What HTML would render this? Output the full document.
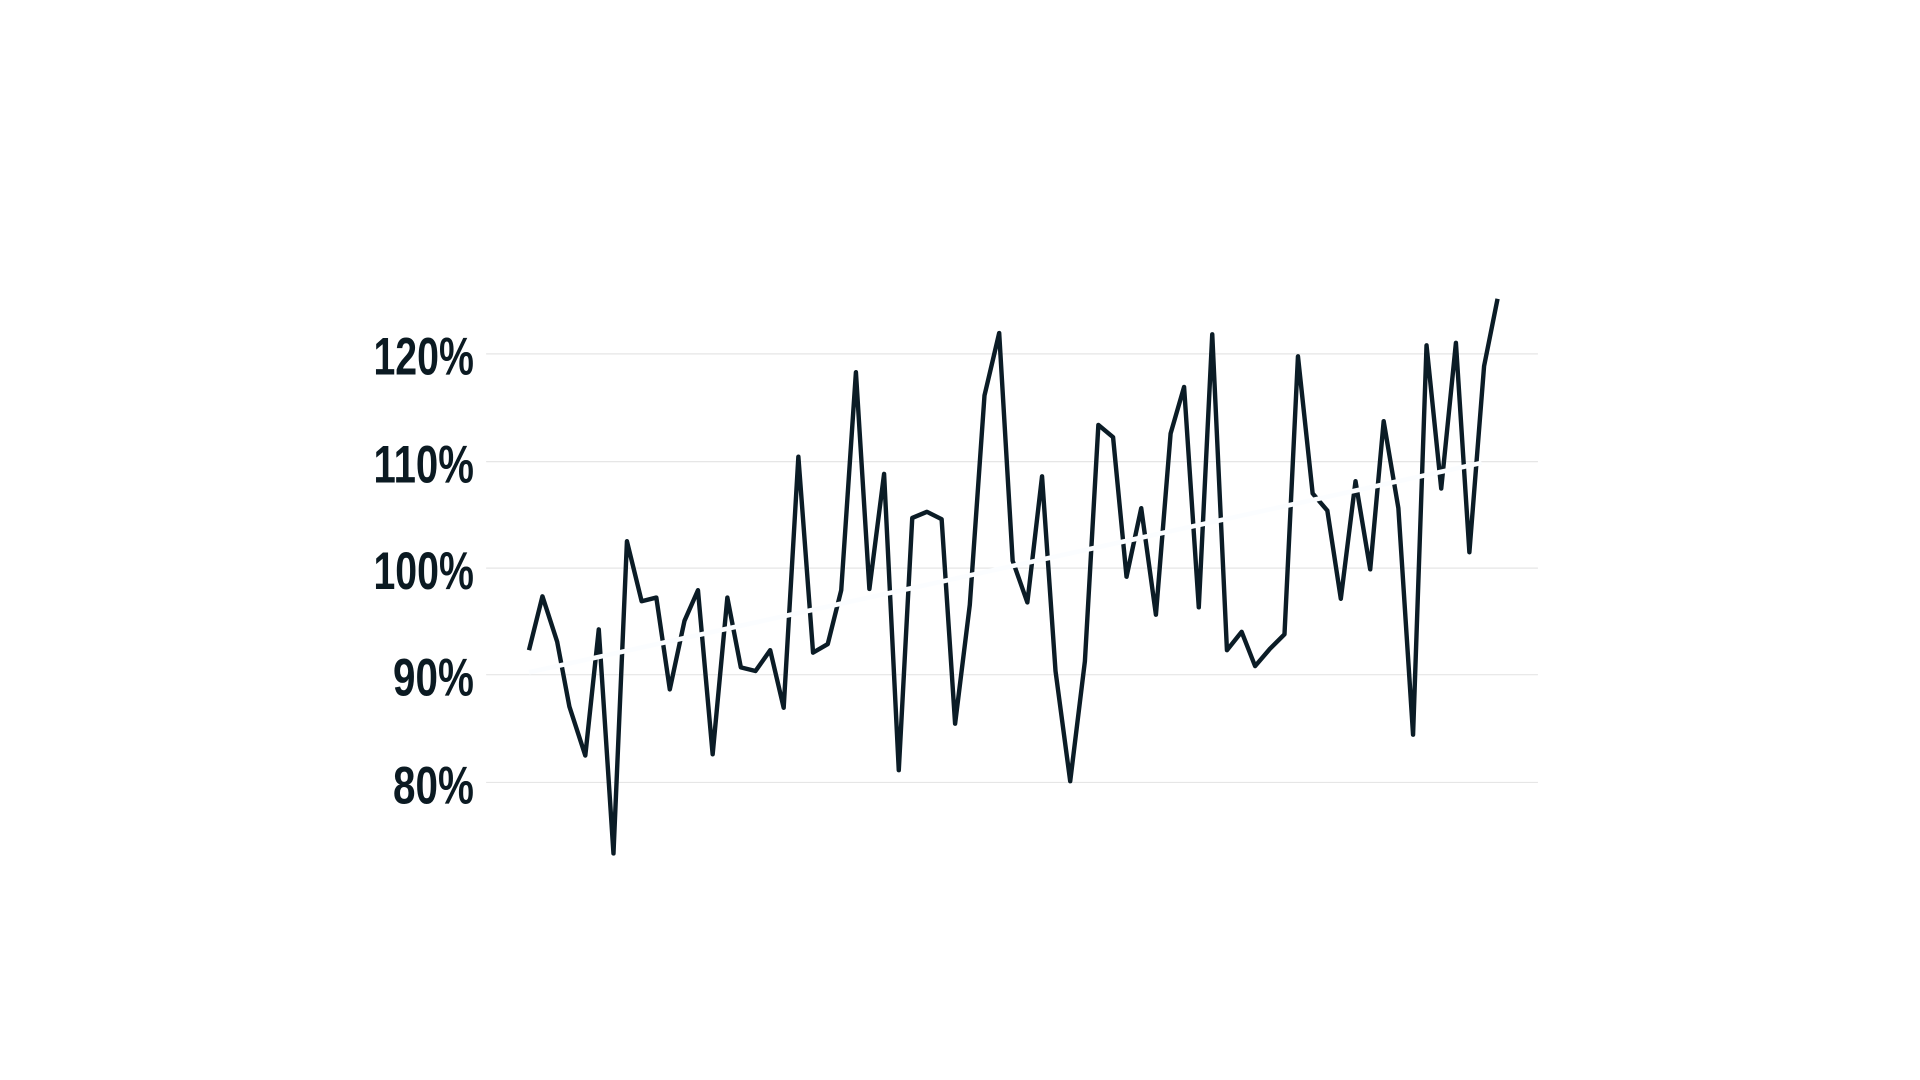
<!DOCTYPE html>
<html><head><meta charset="utf-8"><style>
html,body{margin:0;padding:0;background:#fff;width:1920px;height:1080px;overflow:hidden}
svg{display:block}
text{font-family:"Liberation Sans Narrow","Liberation Sans",sans-serif;font-weight:bold;fill:#0b1a22}
</style></head><body>
<svg width="1920" height="1080" viewBox="0 0 1568 882" preserveAspectRatio="none">
<g stroke="#e6e6e6" stroke-width="1">
<line x1="397" y1="289" x2="1256" y2="289"/>
<line x1="397" y1="377" x2="1256" y2="377"/>
<line x1="397" y1="464" x2="1256" y2="464"/>
<line x1="397" y1="551" x2="1256" y2="551"/>
<line x1="397" y1="639" x2="1256" y2="639"/>
</g>
<g font-size="43" text-anchor="end">
<text x="387" y="306" textLength="82" lengthAdjust="spacingAndGlyphs">120%</text>
<text x="387" y="394" textLength="82" lengthAdjust="spacingAndGlyphs">110%</text>
<text x="387" y="481" textLength="82" lengthAdjust="spacingAndGlyphs">100%</text>
<text x="387" y="568" textLength="66" lengthAdjust="spacingAndGlyphs">90%</text>
<text x="387" y="656" textLength="66" lengthAdjust="spacingAndGlyphs">80%</text>
</g>
<polyline fill="none" stroke="#0b1c26" stroke-width="3.6" stroke-linejoin="round" points="432,531 443,487 455,524 465,577 478,617 489,514 501,697 512,442 524,491 536,488 547,563 559,507 570,482 582,616 594,488 605,545 617,548 629,531 640,578 652,373 664,533 676,526 687,482 699,304 710,481 722,387 734,629 745,423 757,418 769,424 780,591 792,494 804,323 816,272 827,458 839,492 851,389 862,548 874,638 886,540 897,347 909,357 920,471 932,415 944,502 956,354 967,316 979,496 990,273 1002,531 1014,516 1025,544 1037,530 1049,518 1060,291 1072,403 1084,417 1095,489 1107,393 1119,465 1130,344 1142,415 1154,600 1165,282 1177,399 1189,280 1200,451 1212,299 1223,244"/>
<line x1="432" y1="549" x2="1210" y2="378" stroke="#fbfdff" stroke-width="3.8"/>
</svg>
</body></html>
